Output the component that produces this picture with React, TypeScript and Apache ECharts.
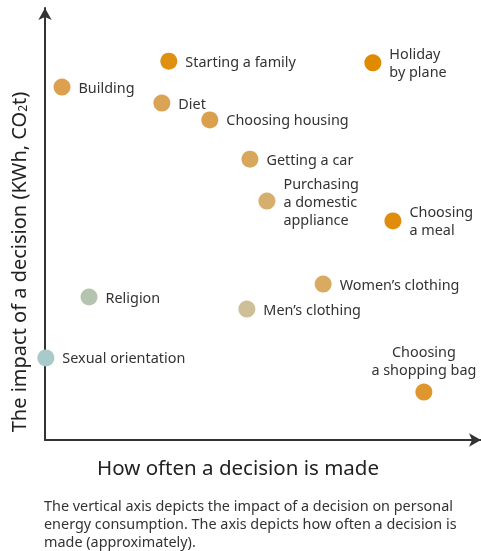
import React, { useEffect, useRef } from "react";
import * as echarts from "echarts";

const names = [
  "Starting a family",
  "Holiday\nby plane",
  "Building",
  "Diet",
  "Choosing housing",
  "Getting a car",
  "Purchasing\na domestic\nappliance",
  "Choosing\na meal",
  "Women’s clothing",
  "Religion",
  "Men’s clothing",
  "Sexual orientation",
  "Choosing\na shopping bag",
];
const frequency = [28.4, 75.2, 3.9, 26.8, 37.8, 47.0, 50.9, 79.8, 63.8, 10.1, 46.3, 0.2, 86.9];
const impact = [87.7, 87.3, 81.7, 78.0, 74.1, 65.0, 55.3, 50.7, 36.1, 33.1, 30.3, 19.0, 11.1];
const colors = [
  "#E0900F", "#E08A00", "#DDA04F", "#DBA355", "#DBA04E", "#D9A75C", "#D6AE6E",
  "#E08D0E", "#DAAA62", "#B5C4AE", "#CFBF98", "#A8CACB", "#E0962E",
];
const labelPos = ["right", "right", "right", "right", "right", "right", "right", "right", "right", "right", "right", "right", "top"];

const FONT = "'Noto Sans', sans-serif";

export default function App() {
  const ref = useRef<HTMLDivElement>(null);
  useEffect(() => {
    const chart = echarts.init(ref.current!, null, { renderer: "svg" });
    const data = names.map((n, i) => ({
      name: n,
      value: [frequency[i], impact[i]],
      itemStyle: { color: colors[i], opacity: 1 },
      label: {
        position: labelPos[i],
        align: labelPos[i] === "top" ? "center" : "left",
        distance: labelPos[i] === "top" ? 5 : 8,
      },
    }));
    chart.setOption({
      animation: false,
      grid: { left: 45, top: 8, width: 436, height: 432 },
      xAxis: {
        type: "value",
        min: 0,
        max: 100,
        axisLine: { show: true, lineStyle: { color: "#333", width: 2 }, symbol: ["none", "arrow"], symbolSize: [10, 12] },
        axisTick: { show: false },
        axisLabel: { show: false },
        splitLine: { show: false },
      },
      yAxis: {
        type: "value",
        min: 0,
        max: 100,
        axisLine: { show: true, lineStyle: { color: "#333", width: 2 }, symbol: ["none", "arrow"], symbolSize: [10, 12] },
        axisTick: { show: false },
        axisLabel: { show: false },
        splitLine: { show: false },
      },
      series: [
        {
          type: "scatter",
          symbolSize: 17,
          clip: false,
          data,
          label: {
            show: true,
            formatter: "{b}",
            color: "#333",
            fontSize: 14.4,
            lineHeight: 18,
            fontFamily: FONT,
          },
        },
      ],
      graphic: [
        {
          type: "text",
          x: 18,
          y: 262,
          rotation: Math.PI / 2,
          style: {
            text: "{m|The impact of a decision (KWh, CO}{s|2}{m|t)}",
            align: "center",
            verticalAlign: "middle",
            rich: {
              m: { fontSize: 20, fontFamily: FONT, fill: "#222" },
              s: { fontSize: 12, fontFamily: FONT, fill: "#222", padding: [9, 0, 0, 0] },
            },
          },
        },
        {
          type: "text",
          x: 238,
          y: 467,
          style: {
            text: "How often a decision is made",
            fontSize: 20.5,
            fontFamily: FONT,
            fill: "#222",
            align: "center",
            verticalAlign: "middle",
          },
        },
        {
          type: "text",
          x: 44,
          y: 496,
          style: {
            text:
              "The vertical axis depicts the impact of a decision on personal\nenergy consumption. The axis depicts how often a decision is\nmade (approximately).",
            fontSize: 14.4,
            lineHeight: 18,
            fontFamily: FONT,
            fill: "#333",
            align: "left",
            verticalAlign: "top",
          },
        },
      ],
    });
    return () => chart.dispose();
  }, []);
  return <div ref={ref} style={{ position: "fixed", left: 0, top: 0, width: 481, height: 551 }} />;
}
